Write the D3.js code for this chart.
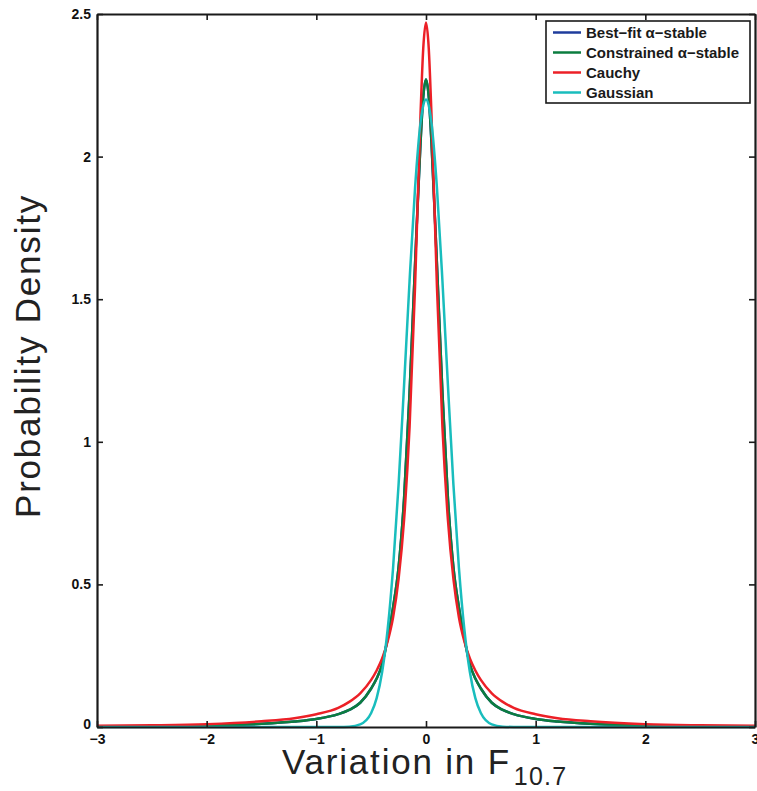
<!DOCTYPE html>
<html>
<head>
<meta charset="utf-8">
<script src="https://cdnjs.cloudflare.com/ajax/libs/d3/7.8.5/d3.min.js"></script>
<style>
  body { margin: 0; background: #fff; }
  svg { display: block; }
  .tick text { font-family: "Liberation Sans", Arial, sans-serif; font-weight: bold; font-size: 14px; fill: #111; }
</style>
</head>
<body>
<div id="chart"></div>
<script>
// x positions of the sampled points (variation in F10.7)
const xs = [-3, -2.5, -2, -1.5, -1.2, -1, -0.8, -0.7, -0.6, -0.5, -0.45, -0.4, -0.35, -0.3, -0.25, -0.2, -0.15, -0.1, -0.05, -0.025,
            0, 0.025, 0.05, 0.1, 0.15, 0.2, 0.25, 0.3, 0.35, 0.4, 0.45, 0.5, 0.6, 0.7, 0.8, 1, 1.2, 1.5, 2, 2.5, 3];

// densities
const bestFit = [0.002, 0.003, 0.005, 0.011, 0.019, 0.028, 0.045, 0.06, 0.085, 0.135, 0.17, 0.22, 0.31, 0.42, 0.56, 0.80, 1.17, 1.62, 2.05, 2.21,
                 2.27, 2.21, 2.05, 1.62, 1.17, 0.80, 0.56, 0.42, 0.31, 0.22, 0.17, 0.135, 0.085, 0.06, 0.045, 0.028, 0.019, 0.011, 0.005, 0.003, 0.002];
const constrained = [0.002, 0.003, 0.005, 0.011, 0.019, 0.028, 0.045, 0.06, 0.085, 0.135, 0.17, 0.22, 0.31, 0.42, 0.56, 0.80, 1.17, 1.62, 2.05, 2.21,
                     2.27, 2.21, 2.05, 1.62, 1.17, 0.80, 0.56, 0.42, 0.31, 0.22, 0.17, 0.135, 0.085, 0.06, 0.045, 0.028, 0.019, 0.011, 0.005, 0.003, 0.002];
const cauchy = [0.004, 0.006, 0.01, 0.02, 0.031, 0.045, 0.067, 0.088, 0.118, 0.165, 0.198, 0.24, 0.30, 0.385, 0.519, 0.726, 1.05, 1.543, 2.147, 2.38,
                2.47, 2.38, 2.147, 1.543, 1.05, 0.726, 0.519, 0.385, 0.30, 0.24, 0.198, 0.165, 0.118, 0.088, 0.067, 0.045, 0.031, 0.02, 0.01, 0.006, 0.004];
const gaussian = [0, 0, 0, 0, 0, 0, 0.0001, 0.0013, 0.0092, 0.049, 0.101, 0.193, 0.341, 0.559, 0.85, 1.198, 1.563, 1.889, 2.118, 2.179,
                  2.2, 2.179, 2.118, 1.889, 1.563, 1.198, 0.85, 0.559, 0.341, 0.193, 0.101, 0.049, 0.0092, 0.0013, 0.0001, 0, 0, 0, 0, 0, 0];

const seriesNames = ["Best\u2212fit \u03b1\u2212stable", "Constrained \u03b1\u2212stable", "Cauchy", "Gaussian"];
const seriesColors = ["#1f3c9c", "#0b7d3f", "#ec2027", "#19bdbd"];
const seriesValues = [bestFit, constrained, cauchy, gaussian];

const xTicks = [-3, -2, -1, 0, 1, 2, 3];
const yTicks = [0, 0.5, 1, 1.5, 2, 2.5];

const width = 757, height = 791;
const plotLeft = 97, plotRight = 755, plotTop = 14, plotBottom = 727;

const svg = d3.select("#chart").append("svg")
  .attr("width", width).attr("height", height);

const x = d3.scaleLinear().domain([-3, 3]).range([plotLeft, plotRight]);
const y = d3.scaleLinear().domain([0, 2.5]).range([plotBottom, plotTop]);

const fmt = d => (d < 0 ? "\u2212" + Math.abs(d) : String(d));

// curves
const line = d3.line()
  .x((d, i) => x(xs[i]))
  .y(d => y(d))
  .curve(d3.curveMonotoneX);

const plot = svg.append("g");
seriesValues.forEach((vals, k) => {
  plot.append("path")
    .datum(vals)
    .attr("d", line)
    .attr("fill", "none")
    .attr("stroke", seriesColors[k])
    .attr("stroke-width", 2.5)
    .attr("stroke-linejoin", "round");
});

// axes (ticks pointing inward, like matlab)
const xAxis = svg.append("g")
  .attr("transform", `translate(0,${plotBottom})`)
  .call(d3.axisBottom(x).tickValues(xTicks).tickFormat(fmt).tickSizeInner(-6).tickSizeOuter(0).tickPadding(7));
const xTop = svg.append("g")
  .attr("transform", `translate(0,${plotTop})`)
  .call(d3.axisTop(x).tickValues(xTicks).tickFormat("").tickSizeInner(-6).tickSizeOuter(0));
const yAxis = svg.append("g")
  .attr("transform", `translate(${plotLeft},0)`)
  .call(d3.axisLeft(y).tickValues(yTicks).tickFormat(fmt).tickSizeInner(-6).tickSizeOuter(0).tickPadding(6));
const yRight = svg.append("g")
  .attr("transform", `translate(${plotRight},0)`)
  .call(d3.axisRight(y).tickValues(yTicks).tickFormat("").tickSizeInner(-6).tickSizeOuter(0));

[xAxis, xTop, yAxis, yRight].forEach(g => {
  g.select(".domain").attr("stroke", "#1a1a1a").attr("stroke-width", 2.2);
  g.selectAll(".tick line").attr("stroke", "#1a1a1a").attr("stroke-width", 1.6);
});
// the zero label sits a little above the axis in the original
yAxis.selectAll(".tick").filter(d => d === 0).select("text").attr("y", -3);

// axis labels
svg.append("text")
  .attr("transform", "translate(40,356) rotate(-90)")
  .attr("text-anchor", "middle")
  .attr("font-family", "Liberation Sans, Arial, sans-serif")
  .attr("font-size", 35)
  .attr("letter-spacing", 1.8)
  .attr("fill", "#222")
  .text("Probability Density");

const xl = svg.append("text")
  .attr("x", 282)
  .attr("y", 774)
  .attr("font-family", "Liberation Sans, Arial, sans-serif")
  .attr("font-size", 35)
  .attr("letter-spacing", 1.8)
  .attr("fill", "#222");
xl.append("tspan").text("Variation in F");
xl.append("tspan").attr("font-size", 25).attr("letter-spacing", 1.2).attr("dx", 3).attr("dy", 11).text("10.7");

// legend
const lg = svg.append("g").attr("transform", "translate(546,21)");
lg.append("rect")
  .attr("width", 204).attr("height", 82)
  .attr("fill", "#fff").attr("stroke", "#1a1a1a").attr("stroke-width", 1.6);
seriesNames.forEach((name, i) => {
  const yy = 11.5 + i * 20;
  lg.append("line")
    .attr("x1", 7).attr("x2", 35).attr("y1", yy).attr("y2", yy)
    .attr("stroke", seriesColors[i]).attr("stroke-width", 2.5);
  lg.append("text")
    .attr("x", 40).attr("y", yy).attr("dy", "0.36em")
    .attr("font-family", "Liberation Sans, Arial, sans-serif")
    .attr("font-weight", "bold")
    .attr("font-size", 15)
    .attr("fill", "#1a1a1a")
    .text(name);
});
</script>
</body>
</html>
